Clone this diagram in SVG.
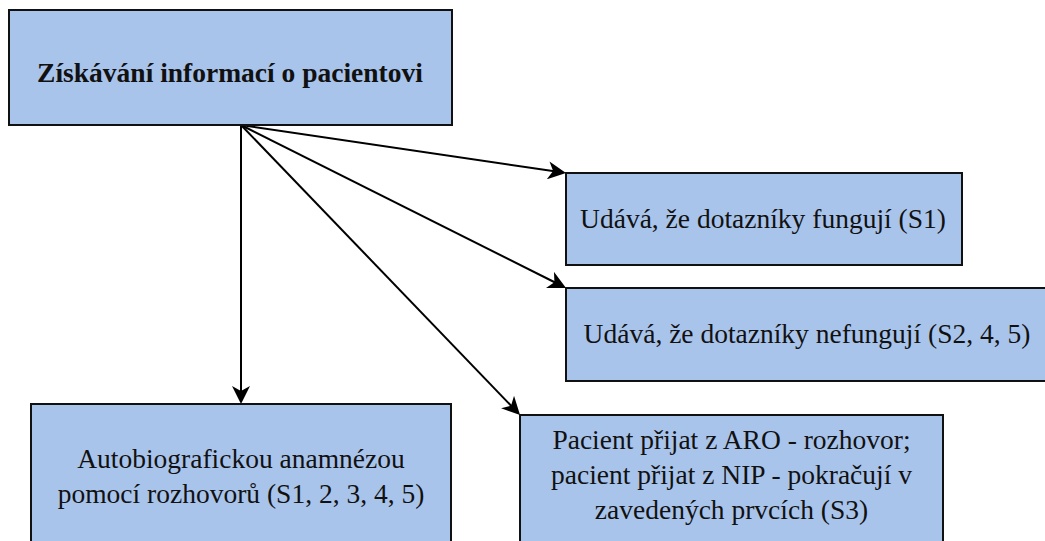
<svg xmlns="http://www.w3.org/2000/svg" width="1045" height="541" viewBox="0 0 1045 541">
<style>
.box{fill:#a9c4eb;stroke:#111;stroke-width:2}
text{font-family:'Liberation Serif',serif;font-size:27.5px;fill:#111;text-anchor:middle}
.b{font-weight:bold}
.c{fill:none;stroke:#000;stroke-width:2;marker-end:url(#ah)}
</style>
<defs>
<marker id="ah" markerUnits="userSpaceOnUse" viewBox="0 0 18 18" markerWidth="18" markerHeight="18" refX="8" refY="9" orient="auto">
<path d="M0,0 L18,9 L0,18 L5,9 z" fill="#000"/>
</marker>
</defs>
<rect width="1045" height="541" fill="#fff"/>
<g id="connectors">
<line class="c" x1="241" y1="125" x2="241" y2="394"/>
<line class="c" x1="241" y1="125" x2="556.1" y2="171.5"/>
<line class="c" x1="241" y1="125" x2="557.1" y2="283.5"/>
<line class="c" x1="241" y1="125" x2="513.1" y2="407.8"/>
</g>
<g id="n-root">
<rect class="box" x="9" y="10" width="443" height="115"/>
<text class="b" x="230" y="82" font-family="Liberation Serif">Získávání informací o pacientovi</text>
</g>
<g id="n-s1">
<rect class="box" x="566" y="173" width="396" height="92"/>
<text x="763" y="228" font-family="Liberation Serif">Udává, že dotazníky fungují (S1)</text>
</g>
<g id="n-s2">
<rect class="box" x="566" y="288" width="484" height="93"/>
<text x="807" y="343" font-family="Liberation Serif">Udává, že dotazníky nefungují (S2, 4, 5)</text>
</g>
<g id="n-auto">
<rect class="box" x="31" y="404" width="420" height="150"/>
<text x="241" y="468" font-family="Liberation Serif">Autobiografickou anamnézou</text>
<text x="241" y="503" font-family="Liberation Serif">pomocí rozhovorů (S1, 2, 3, 4, 5)</text>
</g>
<g id="n-s3">
<rect class="box" x="520" y="415" width="423" height="140"/>
<text x="731.5" y="449" font-family="Liberation Serif">Pacient přijat z ARO - rozhovor;</text>
<text x="731.5" y="484" font-family="Liberation Serif">pacient přijat z NIP - pokračují v</text>
<text x="731.5" y="519" font-family="Liberation Serif">zavedených prvcích (S3)</text>
</g>
</svg>
